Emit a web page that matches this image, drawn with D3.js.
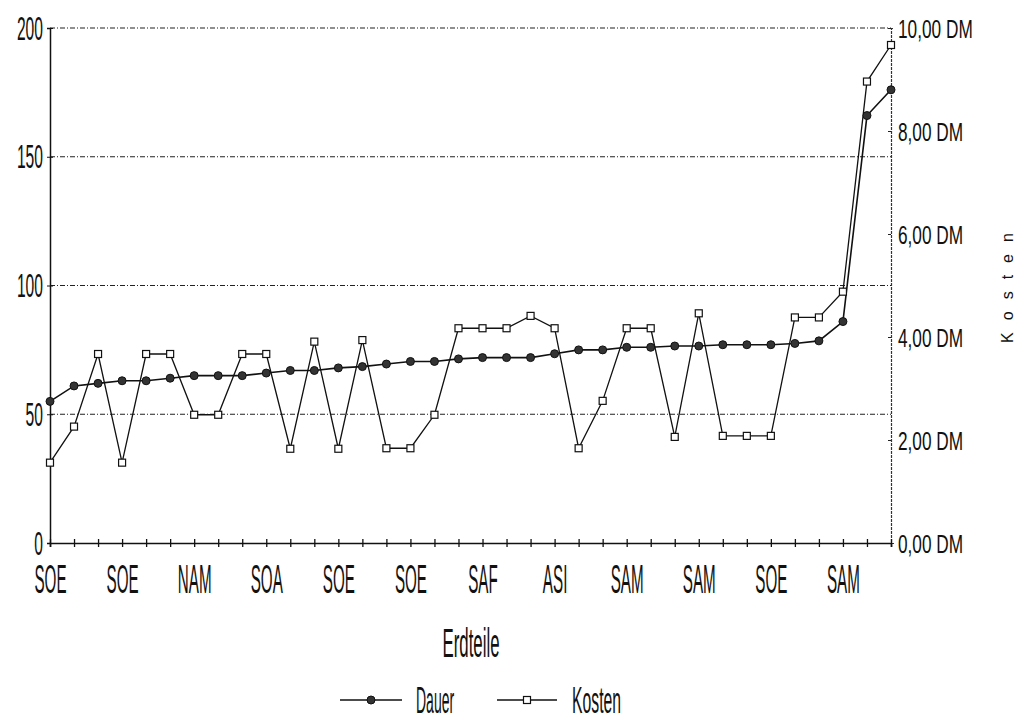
<!DOCTYPE html>
<html lang="de">
<head>
    <meta charset="UTF-8">
    <title>Dauer und Kosten nach Erdteilen</title>
    <script src="https://cdnjs.cloudflare.com/ajax/libs/d3/7.8.5/d3.min.js"></script>
    <style>
        body { margin: 0; background: #fff; }
        svg { display: block; }
        text { font-family: "Liberation Sans", Arial, sans-serif; fill: #111; }
    </style>
</head>
<body>
    <div id="wrapper"></div>
    <script>
        // 1. Daten
        const erdteile = ['SOE', 'SOE', 'NAM', 'SOA', 'SOE', 'SOE', 'SAF', 'ASI', 'SAM', 'SAM', 'SOE', 'SAM']
        const dauer = [55, 61, 62, 63, 63, 64, 65, 65, 65, 66, 67, 67,
                       68, 68.5, 69.5, 70.5, 70.5, 71.5, 72, 72, 72, 73.5, 75, 75,
                       76, 76, 76.5, 76.5, 77, 77, 77, 77.5, 78.5, 86, 166, 176]
        const kosten = [1.56, 2.26, 3.67, 1.56, 3.67, 3.67, 2.49, 2.49, 3.67, 3.67, 1.83, 3.91,
                        1.83, 3.94, 1.84, 1.84, 2.49, 4.17, 4.17, 4.17, 4.41, 4.17, 1.84, 2.76,
                        4.17, 4.17, 2.06, 4.46, 2.08, 2.08, 2.08, 4.38, 4.38, 4.88, 8.96, 9.67]
        const leftTicks = [0, 50, 100, 150, 200]
        const rightTicks = [0, 2, 4, 6, 8, 10]

        const dimensions = {
            width: 1024,
            height: 722,
            left: 50,
            right: 891,
            top: 28,
            bottom: 543,
        }

        const svg = d3.select('#wrapper')
            .append('svg')
                .attr('width', dimensions.width)
                .attr('height', dimensions.height)

        // 2. Skalen
        const xScale = d3.scalePoint()
            .domain(d3.range(dauer.length))
            .range([dimensions.left, dimensions.right])

        const yScale = d3.scaleLinear()
            .domain([0, 200])
            .range([dimensions.bottom, dimensions.top])

        const kScale = d3.scaleLinear()
            .domain([0, 10])
            .range([dimensions.bottom, dimensions.top])

        // schmale, hohe Schrift wie im Scan
        const narrow = (sel, sx) => sel.attr('transform', `scale(${sx},1)`)

        // 3. Gitterlinien (strichpunktiert)
        svg.append('g')
            .selectAll('line')
            .data(leftTicks.filter(d => d > 0))
            .join('line')
                .attr('x1', dimensions.left)
                .attr('x2', dimensions.right)
                .attr('y1', d => yScale(d))
                .attr('y2', d => yScale(d))
                .attr('stroke', '#222')
                .attr('stroke-width', 1.1)
                .attr('stroke-dasharray', '5,2,1,2')

        // 4. Achsen
        const yAxis = svg.append('g')
            .attr('transform', `translate(${dimensions.left},0)`)
            .call(d3.axisLeft(yScale).tickValues(leftTicks).tickSize(3).tickPadding(0))
        yAxis.select('.domain').attr('stroke', '#111').attr('stroke-width', 1.5)
        yAxis.selectAll('.tick line').attr('x2', 3).attr('x1', -3).attr('stroke', '#111')
        yAxis.selectAll('.tick text')
            .style('font-size', '34px')
            .attr('x', -7 / 0.46)
            .attr('dy', '0.33em')
            .call(narrow, 0.46)

        const kAxis = svg.append('g')
            .attr('transform', `translate(${dimensions.right},0)`)
            .call(d3.axisRight(kScale)
                .tickValues(rightTicks)
                .tickSize(3)
                .tickFormat(d => d3.format('.2f')(d).replace('.', ',') + ' DM'))
        kAxis.select('.domain')
            .attr('stroke', '#333')
            .attr('stroke-width', 1.2)
            .attr('stroke-dasharray', '3,1')
        kAxis.selectAll('.tick line').attr('x1', -3).attr('x2', 0).attr('stroke', '#222')
        kAxis.selectAll('.tick text')
            .style('font-size', '25px')
            .attr('x', 7 / 0.69)
            .attr('dy', '0.36em')
            .call(narrow, 0.69)

        const xAxis = svg.append('g')
            .attr('transform', `translate(0,${dimensions.bottom})`)
            .call(d3.axisBottom(xScale)
                .tickSize(4)
                .tickFormat(i => i % 3 === 0 ? erdteile[i / 3] : ''))
        xAxis.select('.domain').attr('stroke', '#111').attr('stroke-width', 1.6)
        xAxis.selectAll('.tick line').attr('y1', -4).attr('y2', 4).attr('stroke', '#111').attr('stroke-width', 1.3)
        xAxis.selectAll('.tick text')
            .style('font-size', '40px')
            .attr('y', 50)
            .attr('dy', 0)
            .call(narrow, 0.38)

        // Achsentitel
        svg.append('text')
            .attr('transform', 'translate(471,657) scale(0.42,1)')
            .attr('text-anchor', 'middle')
            .style('font-size', '40px')
            .text('Erdteile')

        svg.append('text')
            .attr('transform', 'translate(1013,282) rotate(-90)')
            .attr('text-anchor', 'middle')
            .style('font-size', '16px')
            .style('letter-spacing', '12px')
            .text('Kosten')

        // 5. Linien und Marker
        const dauerLine = d3.line()
            .x((d, i) => xScale(i))
            .y(d => yScale(d))
        const kostenLine = d3.line()
            .x((d, i) => xScale(i))
            .y(d => kScale(d))

        svg.append('path')
            .datum(dauer)
            .attr('d', dauerLine)
            .attr('fill', 'none')
            .attr('stroke', '#111')
            .attr('stroke-width', 1.6)

        svg.append('path')
            .datum(kosten)
            .attr('d', kostenLine)
            .attr('fill', 'none')
            .attr('stroke', '#111')
            .attr('stroke-width', 1.3)

        svg.append('g')
            .selectAll('circle')
            .data(dauer)
            .join('circle')
                .attr('cx', (d, i) => xScale(i))
                .attr('cy', d => yScale(d))
                .attr('r', 4)
                .attr('fill', '#333')
                .attr('stroke', '#111')

        svg.append('g')
            .selectAll('rect')
            .data(kosten)
            .join('rect')
                .attr('x', (d, i) => xScale(i) - 3.5)
                .attr('y', d => kScale(d) - 3.5)
                .attr('width', 7)
                .attr('height', 7)
                .attr('fill', '#fff')
                .attr('stroke', '#111')
                .attr('stroke-width', 1.2)

        // 6. Legende
        const legend = svg.append('g')
        legend.append('line')
            .attr('x1', 340).attr('x2', 402).attr('y1', 700).attr('y2', 700)
            .attr('stroke', '#111').attr('stroke-width', 1.5)
        legend.append('circle')
            .attr('cx', 371).attr('cy', 700).attr('r', 4)
            .attr('fill', '#333').attr('stroke', '#111')
        legend.append('text')
            .attr('transform', 'translate(416,713) scale(0.4,1.05)')
            .style('font-size', '35px')
            .text('Dauer')

        legend.append('line')
            .attr('x1', 497).attr('x2', 557).attr('y1', 700).attr('y2', 700)
            .attr('stroke', '#111').attr('stroke-width', 1.5)
        legend.append('rect')
            .attr('x', 523.5).attr('y', 696.5).attr('width', 7).attr('height', 7)
            .attr('fill', '#fff').attr('stroke', '#111').attr('stroke-width', 1.2)
        legend.append('text')
            .attr('transform', 'translate(572,713) scale(0.45,1.05)')
            .style('font-size', '35px')
            .text('Kosten')
    </script>
</body>
</html>
